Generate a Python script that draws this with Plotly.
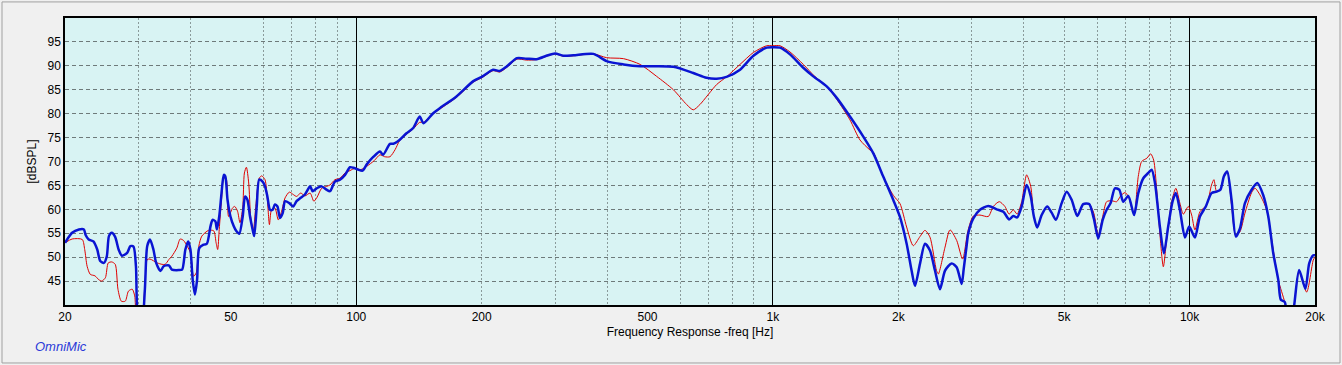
import plotly.graph_objects as go

# ---- data ----
blue_freq = [20.0, 20.8, 21.6, 22.2, 22.4, 22.8, 23.4, 23.9, 24.3, 24.8, 25.2, 25.5, 25.9, 26.4, 26.9, 27.4,
             28.2, 28.7, 29.2, 29.6, 29.9, 30.6, 31.1, 31.5, 32.0, 32.6, 33.1, 33.9, 34.5, 35.5, 36.1, 37.5,
             38.2, 38.9, 39.5, 40.0, 40.5, 41.0, 41.5, 42.0, 43.0, 43.8, 44.7, 45.2, 45.9, 46.3, 46.9, 47.5,
             48.1, 48.5, 49.1, 49.9, 50.8, 51.5, 52.4, 53.4, 54.1, 54.8, 55.6, 56.4, 56.9, 57.7, 58.5, 59.6,
             60.4, 61.2, 62.1, 63.0, 63.8, 64.7, 65.6, 66.6, 67.5, 69.1, 70.6, 71.9, 73.6, 75.3, 77.5, 78.6,
             80.4, 82.6, 84.9, 86.5, 88.9, 91.4, 94.0, 96.6, 98.4, 101, 103.6, 106, 110, 114, 116, 120.5,
             122.7, 127, 132, 137, 142, 145, 153, 159, 174, 191, 201, 213, 221, 230, 243, 256, 271, 286, 300,
             314, 332, 371, 399, 438, 480, 502, 577, 644, 693, 733, 774, 834, 898, 966, 998, 1040, 1099, 1183,
             1250, 1346, 1423, 1531, 1648, 1742, 1841, 1946, 2018, 2094, 2152, 2193, 2254, 2317, 2382, 2449,
             2518, 2589, 2686, 2761, 2838, 2870, 2918, 2944, 3027, 3140, 3288, 3443, 3573, 3690, 3776, 3856,
             3954, 4064, 4157, 4230, 4308, 4416, 4554, 4666, 4778, 4932, 5070, 5212, 5377, 5555, 5742, 5890,
             6036, 6187, 6324, 6464, 6619, 6779, 6932, 7129, 7358, 7532, 7744, 7960, 8110, 8260, 8492, 8678,
             8886, 9100, 9268, 9478, 9750, 9979, 10300, 10590, 10940, 11290, 11610, 11860, 12090, 12310,
             12610, 12910, 13210, 13580, 14090, 14540, 15020, 15450, 15880, 16330, 16560, 16930, 17200,
             17600, 17830, 18320, 18970, 19370, 19810, 20000]
blue_db = [53.0, 55.1, 55.8, 55.8, 54.7, 53.7, 53.3, 51.6, 49.2, 48.8, 50.2, 54.4, 55.1, 54.2, 51.6, 50.3,
           50.9, 52.3, 52.2, 48.1, 38.0, 36.0, 43.3, 52.3, 53.7, 51.6, 48.8, 47.1, 48.1, 48.3, 47.4, 47.3,
           47.4, 51.6, 53.3, 51.6, 45.3, 42.2, 45.3, 51.9, 52.6, 52.8, 56.5, 57.8, 57.5, 55.8, 58.5, 63.4,
           67.2, 66.9, 62.0, 58.5, 56.5, 55.5, 54.9, 58.5, 62.7, 62.0, 58.5, 55.8, 54.4, 60.6, 66.2, 65.8,
           64.8, 62.7, 59.9, 59.9, 61.0, 60.6, 58.2, 59.2, 61.7, 61.3, 60.6, 61.7, 62.4, 63.1, 64.8, 63.8,
           64.4, 64.8, 64.1, 63.8, 65.8, 66.2, 67.2, 68.8, 68.7, 68.3, 68.1, 69.4, 71.0, 72.1, 71.4, 73.7,
           73.7, 74.5, 75.9, 77.0, 79.4, 78.0, 80.1, 81.2, 83.6, 86.8, 87.8, 89.2, 88.9, 89.9, 91.6, 91.5,
           91.4, 92.1, 92.6, 92.1, 92.2, 92.5, 91.0, 90.3, 89.9, 89.9, 89.8, 88.5, 87.5, 87.3, 87.7, 89.2,
           92.1, 93.8, 93.9, 93.8, 92.4, 89.6, 87.8, 85.7, 83.3, 79.4, 75.2, 71.7, 66.8, 61.9, 58.4, 52.8,
           47.2, 44.0, 48.6, 52.8, 51.4, 47.2, 43.3, 47.2, 48.7, 47.9, 44.4, 47.5, 52.5, 55.0, 58.1, 59.9,
           60.7, 60.0, 59.5, 57.9, 58.6, 58.3, 60.6, 65.1, 62.7, 58.5, 56.2, 58.8, 60.6, 59.3, 57.8, 61.3,
           63.7, 62.0, 58.6, 61.1, 61.1, 58.1, 53.9, 57.8, 59.9, 61.3, 64.4, 64.1, 61.6, 62.8, 58.8, 63.4,
           66.5, 67.6, 68.3, 65.5, 56.2, 50.8, 56.4, 61.6, 63.4, 59.9, 54.1, 56.4, 54.1, 58.5, 60.6, 63.4,
           63.7, 64.1, 66.9, 67.9, 62.0, 54.3, 56.0, 61.3, 64.1, 65.5, 63.0, 58.5, 50.8, 45.2, 41.1, 40.6,
           37.0, 37.0, 40.0, 47.3, 43.4, 48.7, 50.4, 50.4]

red_freq = [20.0, 20.8, 22.0, 22.3, 22.6, 23.0, 23.6, 24.1, 24.5, 25.0, 25.4, 25.9, 26.4, 26.8, 27.3, 27.9,
            28.4, 29.0, 29.4, 29.7, 30.5, 31.1, 31.5, 32.0, 33.3, 34.2, 34.8, 35.5, 36.1, 37.1, 37.8, 38.5,
            39.3, 40.0, 40.7, 41.3, 41.9, 42.6, 44.2, 45.5, 46.1, 46.5, 46.9, 47.5, 48.1, 48.7, 49.4, 50.5,
            51.1, 51.9, 52.6, 53.4, 53.9, 54.5, 55.2, 55.8, 56.6, 57.4, 58.5, 59.3, 60.4, 61.2, 61.9, 62.6,
            63.8, 65.0, 66.2, 67.5, 69.1, 70.6, 71.9, 73.6, 75.3, 77.5, 79.1, 80.4, 82.6, 84.9, 86.5, 88.9,
            91.4, 94.0, 96.6, 99.5, 102.5, 106, 110.5, 114, 117, 120.5, 124, 127, 132, 137, 142, 145, 153,
            159, 174, 191, 201, 213, 221, 230, 243, 256, 271, 286, 300, 314, 332, 371, 399, 438, 480, 526,
            577, 621, 644, 668, 733, 774, 834, 898, 966, 998, 1040, 1099, 1183, 1260, 1346, 1423, 1531,
            1618, 1710, 1742, 1841, 1946, 2018, 2094, 2172, 2254, 2317, 2382, 2470, 2495, 2589, 2661, 2761,
            2853, 2940, 3027, 3140, 3288, 3380, 3494, 3604, 3690, 3776, 3856, 3954, 4064, 4157, 4230, 4308,
            4416, 4554, 4666, 4778, 4932, 5070, 5212, 5377, 5555, 5742, 5890, 6036, 6187, 6324, 6500, 6684,
            6832, 6998, 7129, 7358, 7532, 7674, 7900, 8066, 8200, 8339, 8492, 8650, 8810, 9058, 9268, 9478,
            9660, 9930, 10116, 10300, 10590, 10990, 11290, 11440, 11610, 11860, 12160, 12310, 12610, 12910,
            13210, 13580, 14090, 14360, 14760, 15310, 15880, 16330, 16930, 17200, 17600, 17830, 18320,
            19100, 19810, 20000]
red_db = [53.0, 53.8, 53.7, 51.6, 48.1, 46.4, 46.1, 45.3, 45.0, 45.7, 48.8, 49.0, 48.5, 43.3, 40.8, 40.8,
          42.9, 43.3, 41.9, 38.0, 37.0, 44.0, 49.5, 49.6, 48.8, 48.5, 48.5, 49.5, 50.2, 51.9, 53.8, 53.5,
          52.3, 50.9, 46.0, 46.7, 52.3, 54.4, 55.6, 55.5, 53.0, 51.6, 55.8, 62.0, 66.5, 66.5, 58.5, 60.3,
          60.6, 59.6, 57.2, 60.3, 67.6, 68.8, 65.5, 58.5, 55.4, 60.6, 66.5, 67.0, 66.2, 62.0, 56.8, 59.9,
          60.3, 57.8, 59.6, 62.4, 63.6, 63.1, 62.7, 63.4, 62.8, 63.4, 61.7, 62.4, 64.4, 64.8, 65.1, 66.2,
          66.5, 67.6, 68.1, 68.6, 68.3, 69.0, 70.2, 71.4, 71.0, 71.0, 72.5, 74.3, 75.7, 76.8, 78.2, 78.2, 80.0,
          81.0, 83.4, 86.6, 87.6, 89.0, 88.7, 89.7, 91.4, 91.2, 91.3, 92.0, 92.5, 92.0, 92.1, 92.5, 91.7,
          91.5, 90.3, 87.8, 85.0, 81.9, 80.8, 81.9, 86.1, 87.7, 90.3, 92.8, 94.2, 94.2, 94.2, 92.9, 90.3,
          87.8, 85.7, 83.0, 78.7, 74.5, 72.4, 71.9, 66.8, 62.9, 61.2, 56.3, 52.4, 54.3, 55.6, 54.2, 47.2,
          46.5, 52.1, 55.7, 53.5, 49.6, 55.6, 58.6, 58.8, 58.5, 60.6, 61.6, 60.6, 59.0, 59.9, 59.0, 61.6,
          67.2, 64.8, 58.5, 56.2, 58.8, 60.6, 59.3, 57.8, 61.3, 63.7, 62.0, 58.6, 61.1, 61.1, 59.2, 54.6,
          58.5, 61.6, 61.8, 61.6, 62.8, 63.5, 62.7, 59.0, 66.9, 70.0, 70.7, 71.6, 70.3, 64.1, 54.6, 48.0,
          53.6, 61.6, 64.4, 61.3, 59.0, 60.6, 58.8, 55.7, 59.5, 60.9, 65.1, 66.2, 63.7, 64.4, 67.6, 67.9,
          60.9, 54.6, 55.3, 59.2, 63.5, 64.4, 63.0, 59.9, 51.5, 45.2, 40.5, 37.0, 37.0, 40.0, 47.0, 42.7,
          49.4, 50.0]

x_tick_vals = [20, 50, 100, 200, 500, 1000, 2000, 5000, 10000, 20000]
x_tick_text = ["20", "50", "100", "200", "500", "1k", "2k", "5k", "10k", "20k"]
x_minor_grid = [30, 40, 60, 70, 80, 90, 200, 300, 400, 600, 700, 800, 900,
                2000, 3000, 4000, 5000, 6000, 7000, 8000, 9000]
x_decades = [100, 1000, 10000]
y_tick_vals = [45, 50, 55, 60, 65, 70, 75, 80, 85, 90, 95]

FONT = "Liberation Sans, Arial, sans-serif"
xr = [1.30103, 4.30103]

fig = go.Figure()
fig.add_trace(go.Scatter(x=red_freq, y=red_db, mode="lines", xaxis="x", yaxis="y",
                         line=dict(color="#e00000", width=1, shape="spline", smoothing=0.7),
                         hoverinfo="skip", showlegend=False))
fig.add_trace(go.Scatter(x=blue_freq, y=blue_db, mode="lines", xaxis="x2", yaxis="y",
                         line=dict(color="#0a14d2", width=2.5, shape="spline", smoothing=0.7),
                         hoverinfo="skip", showlegend=False))

fig.update_layout(
    width=1342, height=365,
    margin=dict(l=65, r=27, t=18, b=60),
    paper_bgcolor="#f0f0f0",
    plot_bgcolor="#d8f3f3",
    font=dict(family=FONT, size=12, color="#000000"),
    xaxis=dict(type="log", range=xr, tickvals=x_tick_vals, ticktext=x_tick_text,
               showgrid=False, zeroline=False, ticks="", ticklen=0,
               showline=True, linecolor="#000000", linewidth=1.5, mirror=True,
               tickfont=dict(size=12),
               minor=dict(tickvals=x_minor_grid, showgrid=True, gridcolor="#8a9a9a",
                          griddash="2px,2px", gridwidth=1, ticks=""),
               title=dict(text="Frequency Response -freq [Hz]", font=dict(size=12), standoff=4)),
    xaxis2=dict(type="log", range=xr, overlaying="x", side="bottom",
                tickvals=x_decades, showticklabels=False, ticks="",
                showgrid=True, gridcolor="#000000", gridwidth=1, zeroline=False, showline=False),
    yaxis=dict(range=[40, 100], tickvals=y_tick_vals, showgrid=True, gridcolor="#6e7a7a",
               griddash="4px,3px", gridwidth=1, zeroline=False, ticks="",
               showline=True, linecolor="#000000", linewidth=1.5, mirror=True,
               tickfont=dict(size=12),
               title=dict(text="[dBSPL]", font=dict(size=12), standoff=8)),
    annotations=[dict(text="<i>OmniMic</i>", xref="paper", yref="paper",
                      x=-0.0256, y=-0.146, xanchor="left", yanchor="middle",
                      showarrow=False, font=dict(family=FONT, size=13, color="#2a3ad8"))],
    shapes=[dict(type="rect", xref="paper", yref="paper",
                 x0=-0.0504, x1=1.0200, y0=-0.202, y1=1.056,
                 line=dict(color="#a0a0a0", width=1), layer="below")],
)

fig.write_html("out.html",
               config={"displayModeBar": False},
               post_script="document.body.style.margin='0';document.body.style.padding='0';"
                           "document.body.style.overflow='hidden';")
